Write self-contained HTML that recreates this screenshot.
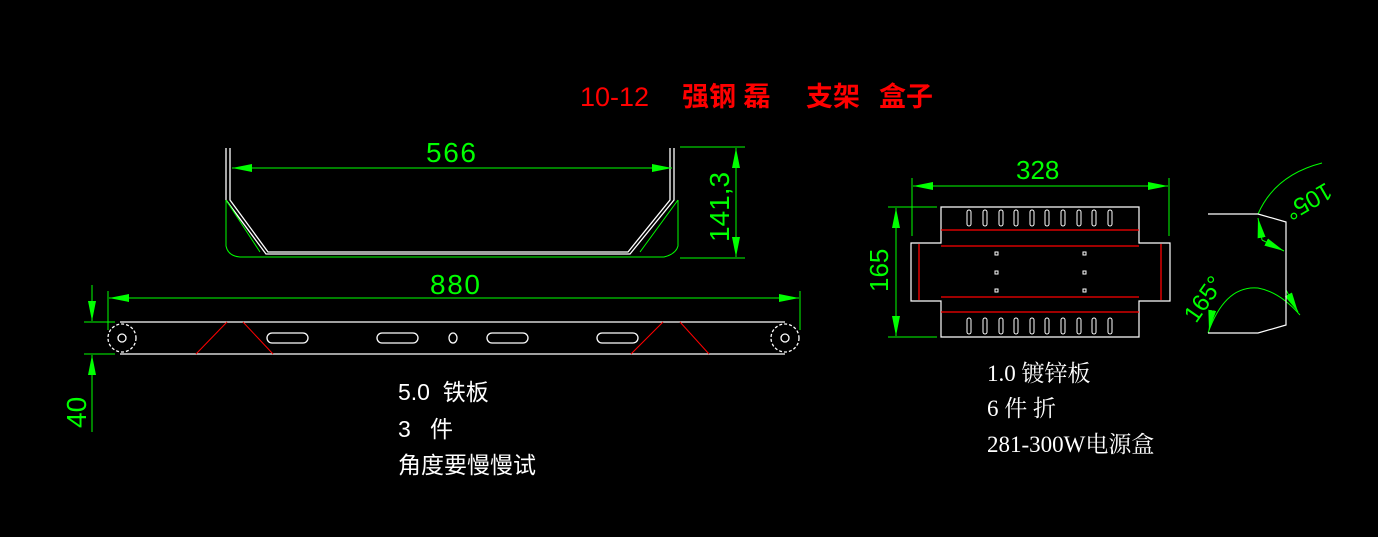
<!DOCTYPE html>
<html><head><meta charset="utf-8"><style>
html,body{margin:0;padding:0;background:#000;width:1378px;height:537px;overflow:hidden}
svg{display:block}
text{white-space:pre}
</style></head><body>
<svg width="1378" height="537" viewBox="0 0 1378 537" xmlns="http://www.w3.org/2000/svg">
<defs>
<marker id="a" viewBox="0 0 10 6" refX="10" refY="3" markerWidth="20" markerHeight="8" preserveAspectRatio="none" orient="auto-start-reverse" markerUnits="userSpaceOnUse"><path d="M10,3 L0,0 L0,6 Z" fill="#0f0"/></marker>
</defs>
<g font-family="Liberation Sans, Noto Sans CJK SC, sans-serif" fill="#f00" font-size="27">
<text x="580" y="106">10-12</text>
<text x="682" y="106" font-weight="bold">强钢 磊</text>
<text x="806" y="106" font-weight="bold">支架</text>
<text x="879" y="106" font-weight="bold">盒子</text>
</g>
<!-- top bracket -->
<g stroke="#fff" fill="none" stroke-width="1.3">
<path d="M226,148 V200 L266,254 H630 L674,200 V148"/>
<path d="M230,148 V200 L268,252 H628 L670,200 V148"/>
</g>
<g stroke="#0f0" fill="none" stroke-width="1">
<path d="M226,200 V246 Q228,256 240,257 H664 Q676,254 678,246 V200"/>
<path d="M226,200 L260,252 M678,200 L640,252"/>
<line x1="232" y1="168" x2="672" y2="168" marker-start="url(#a)" marker-end="url(#a)"/>
<line x1="680" y1="147" x2="745" y2="147"/><line x1="680" y1="258" x2="745" y2="258"/>
<line x1="736" y1="148" x2="736" y2="257" marker-start="url(#a)" marker-end="url(#a)"/>
<line x1="108" y1="291" x2="108" y2="330"/><line x1="800" y1="291" x2="800" y2="330"/>
<line x1="109" y1="298" x2="799" y2="298" marker-start="url(#a)" marker-end="url(#a)"/>
<line x1="92" y1="285" x2="92" y2="321" marker-end="url(#a)"/>
<line x1="92" y1="432" x2="92" y2="355" marker-end="url(#a)"/>
<line x1="84" y1="322" x2="115" y2="322"/><line x1="84" y1="354" x2="115" y2="354"/>
</g>
<g fill="#0f0" font-family="Liberation Sans, sans-serif" font-size="28">
<text x="426" y="162" textLength="50">566</text>
<text x="430" y="294" textLength="50">880</text>
<text transform="translate(729,242) rotate(-90)">141,3</text>
<text transform="translate(86,428) rotate(-90)">40</text>
</g>
<!-- bottom bar -->
<g stroke="#fff" fill="none" stroke-width="1.3">
<line x1="120" y1="322" x2="785" y2="322"/><line x1="120" y1="354" x2="785" y2="354"/>
<circle cx="122" cy="338" r="14" stroke-dasharray="3,2"/><circle cx="122" cy="338" r="4"/>
<circle cx="785" cy="338" r="14" stroke-dasharray="3,2"/><circle cx="785" cy="338" r="4"/>
<rect x="267" y="333" width="41" height="10" rx="5"/>
<rect x="377" y="333" width="41" height="10" rx="5"/>
<rect x="487" y="333" width="41" height="10" rx="5"/>
<rect x="597" y="333" width="41" height="10" rx="5"/>
<ellipse cx="453" cy="338" rx="4" ry="5"/>
</g>
<g stroke="#f00" stroke-width="1"><path d="M196,354 L227,322 M243,322 L273,354 M631,354 L663,322 M680,322 L709,354"/></g>
<g fill="#fff" font-family="Liberation Sans, Noto Sans CJK SC, sans-serif" font-size="23">
<text x="398" y="400">5.0  铁板</text>
<text x="398" y="437">3   件</text>
<text x="398" y="473">角度要慢慢试</text>
</g>
<!-- right plate -->
<g stroke="#0f0" fill="none" stroke-width="1">
<line x1="912" y1="178" x2="912" y2="236"/><line x1="1169" y1="178" x2="1169" y2="236"/>
<line x1="913" y1="186" x2="1168" y2="186" marker-start="url(#a)" marker-end="url(#a)"/>
<line x1="888" y1="207" x2="937" y2="207"/><line x1="888" y1="337" x2="937" y2="337"/>
<line x1="896" y1="208" x2="896" y2="336" marker-start="url(#a)" marker-end="url(#a)"/>
<path d="M1258,214 Q1275,175 1322,163"/>
<line x1="1258" y1="218" x2="1262" y2="240" marker-start="url(#a)"/>
<line x1="1262" y1="240" x2="1284" y2="251" marker-end="url(#a)"/>
<path d="M1208,333 Q1225,285 1258,288 Q1280,292 1300,315"/>
<line x1="1212" y1="312" x2="1209" y2="330" marker-end="url(#a)"/>
<line x1="1286" y1="290" x2="1298" y2="312" marker-end="url(#a)"/>
</g>
<g fill="#0f0" font-family="Liberation Sans, sans-serif" font-size="26">
<text x="1016" y="179">328</text>
<text transform="translate(888,292) rotate(-90)">165</text>
<text transform="translate(1326,182) rotate(-210)" font-size="24">105°</text>
<text transform="translate(1196,324) rotate(-55)" font-size="24">165°</text>
</g>
<g stroke="#fff" fill="none" stroke-width="1.2">
<path d="M941,207 H1139 V243 L1170,243 V301 H1139 V337 H941 V301 H911 V243 H941 Z"/>
<path d="M1208,214 H1258 L1286,222 V325 L1258,333 H1208"/>
</g>
<g stroke="#f00" stroke-width="1.3">
<line x1="941" y1="230" x2="1139" y2="230"/><line x1="941" y1="246" x2="1139" y2="246"/>
<line x1="941" y1="297" x2="1139" y2="297"/><line x1="941" y1="312" x2="1139" y2="312"/>
<line x1="919" y1="244" x2="919" y2="300"/><line x1="1161" y1="244" x2="1161" y2="300"/>
</g>
<g stroke="#fff" fill="none" stroke-width="1">
<rect x="967" y="210" width="4" height="16" rx="2"/><rect x="983" y="210" width="4" height="16" rx="2"/><rect x="999" y="210" width="4" height="16" rx="2"/><rect x="1014" y="210" width="4" height="16" rx="2"/><rect x="1030" y="210" width="4" height="16" rx="2"/><rect x="1045" y="210" width="4" height="16" rx="2"/><rect x="1061" y="210" width="4" height="16" rx="2"/><rect x="1077" y="210" width="4" height="16" rx="2"/><rect x="1092" y="210" width="4" height="16" rx="2"/><rect x="1108" y="210" width="4" height="16" rx="2"/>
<rect x="967" y="318" width="4" height="16" rx="2"/><rect x="983" y="318" width="4" height="16" rx="2"/><rect x="999" y="318" width="4" height="16" rx="2"/><rect x="1014" y="318" width="4" height="16" rx="2"/><rect x="1030" y="318" width="4" height="16" rx="2"/><rect x="1045" y="318" width="4" height="16" rx="2"/><rect x="1061" y="318" width="4" height="16" rx="2"/><rect x="1077" y="318" width="4" height="16" rx="2"/><rect x="1092" y="318" width="4" height="16" rx="2"/><rect x="1108" y="318" width="4" height="16" rx="2"/>
<rect x="995" y="252" width="3" height="3"/><rect x="995" y="271" width="3" height="3"/><rect x="995" y="289" width="3" height="3"/>
<rect x="1083" y="252" width="3" height="3"/><rect x="1083" y="271" width="3" height="3"/><rect x="1083" y="289" width="3" height="3"/>
</g>
<g fill="#fff" font-family="Liberation Serif, Noto Serif CJK SC, serif" font-size="23">
<text x="987" y="381">1.0 镀锌板</text>
<text x="987" y="416">6 件 折</text>
<text x="987" y="452">281-300W电源盒</text>
</g>
</svg>
</body></html>
